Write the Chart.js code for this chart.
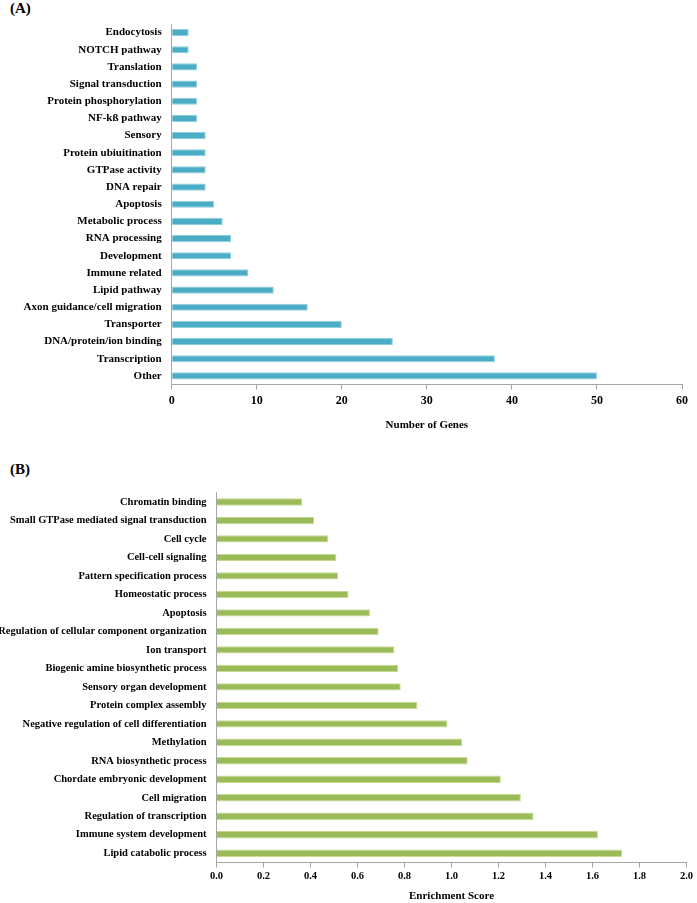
<!DOCTYPE html>
<html>
<head>
<meta charset="utf-8">
<script src="https://cdn.jsdelivr.net/npm/chart.js@4.4.1/dist/chart.umd.min.js"></script>
<style>
    body { margin: 0; background: #fff; width: 697px; height: 903px; position: relative; overflow: hidden; }
    .panel { position: absolute; left: 0; }
    .tag { position: absolute; left: 10px; font: bold 15px "Liberation Serif", serif; color: #000; }
</style>
</head>
<body>
<div class="tag" style="top: 0px;">(A)</div>
<div class="tag" style="top: 461px;">(B)</div>
<div class="panel" style="top: 0;"><canvas id="chartA" width="697" height="432"></canvas></div>
<div class="panel" style="top: 440px;"><canvas id="chartB" width="697" height="463"></canvas></div>
<script>
// (A) gene categories, top to bottom
const categoriesA = ['Endocytosis', 'NOTCH pathway', 'Translation', 'Signal transduction', 'Protein phosphorylation',
    'NF-kß pathway', 'Sensory', 'Protein ubiuitination', 'GTPase activity', 'DNA repair', 'Apoptosis',
    'Metabolic process', 'RNA processing', 'Development', 'Immune related', 'Lipid pathway',
    'Axon guidance/cell migration', 'Transporter', 'DNA/protein/ion binding', 'Transcription', 'Other'];
const genesA = [2, 2, 3, 3, 3, 3, 4, 4, 4, 4, 5, 6, 7, 7, 9, 12, 16, 20, 26, 38, 50];
const ticksA = [0, 10, 20, 30, 40, 50, 60];

// (B) enriched GO terms, top to bottom
const categoriesB = ['Chromatin binding', 'Small GTPase mediated signal transduction', 'Cell cycle', 'Cell-cell signaling',
    'Pattern specification process', 'Homeostatic process', 'Apoptosis', 'Regulation of cellular component organization',
    'Ion transport', 'Biogenic amine biosynthetic process', 'Sensory organ development', 'Protein complex assembly',
    'Negative regulation of cell differentiation', 'Methylation', 'RNA biosynthetic process',
    'Chordate embryonic development', 'Cell migration', 'Regulation of transcription', 'Immune system development',
    'Lipid catabolic process'];
const scoresB = [0.365, 0.415, 0.475, 0.51, 0.517, 0.562, 0.653, 0.69, 0.757, 0.773, 0.784, 0.855, 0.983,
    1.045, 1.069, 1.21, 1.295, 1.349, 1.623, 1.726];
const ticksB = [0, 0.2, 0.4, 0.6, 0.8, 1.0, 1.2, 1.4, 1.6, 1.8, 2.0];

const serif = '"Liberation Serif", "Times New Roman", serif';
const axisGrey = '#a6a6a6';

function renderBarChart(id, labels, values, ticks, opts) {
    const ctx = document.getElementById(id).getContext('2d');
    return new Chart(ctx, {
        type: 'bar',
        data: {
            labels: labels,
            datasets: [{
                data: values,
                backgroundColor: opts.color,
                borderColor: opts.edge,
                borderWidth: 1,
                barPercentage: opts.barPct,
                categoryPercentage: 1
            }]
        },
        options: {
            indexAxis: 'y',
            responsive: false,
            animation: false,
            devicePixelRatio: 1,
            layout: { padding: opts.padding },
            plugins: { legend: { display: false }, tooltip: { enabled: false } },
            scales: {
                x: {
                    min: ticks[0],
                    max: ticks[ticks.length - 1],
                    ticks: {
                        stepSize: ticks[1] - ticks[0],
                        color: '#000',
                        padding: opts.tickPad,
                        font: { family: serif, weight: 'bold', size: opts.tickSize },
                        callback: v => opts.decimals ? v.toFixed(1) : v
                    },
                    grid: { drawOnChartArea: false, drawTicks: true, tickLength: 5, color: axisGrey },
                    border: { display: true, color: axisGrey, width: 1 },
                    title: {
                        display: true,
                        text: opts.xTitle,
                        color: '#000',
                        padding: { top: 4, bottom: 0 },
                        font: { family: serif, weight: 'bold', size: 11 }
                    },
                    afterFit: axis => { axis.height = opts.xHeight; }
                },
                y: {
                    ticks: {
                        color: '#000',
                        padding: 10,
                        autoSkip: false,
                        font: { family: serif, weight: 'bold', size: opts.labelSize }
                    },
                    grid: { display: false, drawTicks: false },
                    border: { display: true, color: axisGrey, width: 1 },
                    afterFit: axis => { axis.width = opts.yWidth; }
                }
            }
        }
    });
}

renderBarChart('chartA', categoriesA, genesA, ticksA, {
    color: '#4bacc6', edge: '#8fd0e0', barPct: 0.42,
    padding: { top: 24, left: 0, right: 15, bottom: 0 },
    xTitle: 'Number of Genes', xHeight: 47.5, yWidth: 171.7,
    tickSize: 12, tickPad: 4, labelSize: 11, decimals: false
});

renderBarChart('chartB', categoriesB, scoresB, ticksB, {
    color: '#9bbb59', edge: '#c4dc94', barPct: 0.40,
    padding: { top: 52.7, left: 0, right: 10.5, bottom: 0 },
    xTitle: 'Enrichment Score', xHeight: 40.5, yWidth: 216.5,
    tickSize: 10.5, tickPad: 2, labelSize: 10.5, decimals: true
});
</script>
</body>
</html>
